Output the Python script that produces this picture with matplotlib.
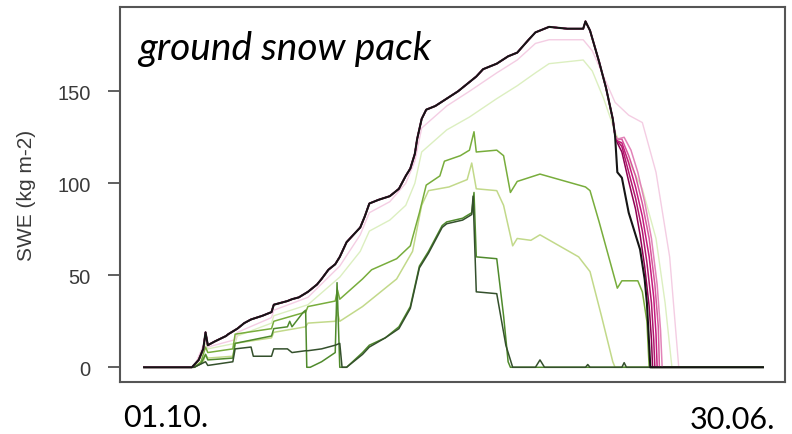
import matplotlib
matplotlib.use("Agg")
import matplotlib.pyplot as plt

# days since 01.10., SWE in kg m-2
# shared accumulation of the top (black / magenta) runs
acc_days = [0, 21, 24, 26, 27, 28, 31, 36, 37, 41, 44, 47, 52, 56, 57, 63, 65, 68, 72, 76, 78, 81, 84,
            86, 89, 92, 95, 97, 99, 103, 108, 112, 115, 117, 119, 120, 122, 124, 128, 133, 138, 143,
            146, 149, 155, 160, 164, 169, 172, 178, 186, 193, 194, 196, 200, 203, 206, 207]
acc_swe = [0, 0, 4, 10, 19, 12, 14, 17, 18, 21, 24, 26, 28, 30, 34, 36, 37, 38, 41, 45, 48, 53, 56,
           60, 68, 72, 76, 82, 89, 91, 93, 97, 104, 108, 116, 124, 135, 140, 142, 146, 150, 155,
           158, 162, 165, 169, 171, 178, 182, 185, 184, 184, 188, 183, 166, 152, 135, 126]

# melt tails
black_days = [208, 210, 213, 216, 218, 220, 221, 222, 222.5, 272]
black_swe = [106, 103, 84, 72, 64, 48, 35, 12, 0, 0]

pink_days = [
    [208, 210, 213, 216, 218, 220, 222, 223, 223.5],
    [208, 210, 213, 216, 219, 221, 223, 224, 224.5],
    [208, 210, 213, 216, 219, 222, 224, 225, 225.5],
    [208, 210, 213, 216, 219, 222, 224.5, 226, 226.5],
    [208, 211, 214, 217, 220, 223, 225.5, 227, 227.7],
]
pink_swe = [
    [122, 117, 101, 86, 72, 55, 33, 15, 0],
    [123, 120, 106, 92, 74, 57, 35, 15, 0],
    [123, 122, 111, 98, 82, 60, 38, 18, 0],
    [124, 124, 115, 104, 89, 70, 45, 22, 0],
    [124, 125, 118, 106, 90, 70, 45, 20, 0],
]
pink_colors = ["#8e0152", "#b0176d", "#c51b7d", "#d6559b", "#e283b8"]

# faint runs just below the top
fp_days = [0, 22, 27, 28, 40, 41, 56, 57, 72, 86, 95, 99, 108, 115, 119, 122, 133, 143, 155, 164,
           172, 178, 193, 197, 202, 207, 213, 219, 225, 231, 235, 272]
fp_swe = [0, 0, 15, 11, 15, 19, 27, 31, 38, 55, 72, 84, 90, 100, 112, 130, 142, 150, 160, 167,
          176, 178, 178, 172, 158, 144, 137, 133, 106, 60, 0, 0]
fg_days = [0, 22, 27, 28, 40, 41, 56, 57, 72, 86, 95, 99, 108, 115, 119, 122, 133, 143, 155, 164,
           172, 178, 193, 197, 202, 207, 213, 219, 225, 229, 232, 272]
fg_swe = [0, 0, 13, 10, 13, 17, 24, 28, 34, 49, 63, 74, 80, 88, 100, 117, 129, 136, 146, 153,
          160, 165, 167, 161, 146, 128, 112, 97, 70, 35, 0, 0]

# green runs
g1_days = [0, 22, 25, 27, 28, 39, 40, 56, 57, 71, 72, 84, 85, 86, 96, 100, 111, 117, 121, 124, 130,
           132, 139, 143, 145, 146, 155, 158, 161, 164, 174, 194, 196, 200, 208, 210, 217, 219, 221,
           222, 272]
g1_swe = [0, 0, 3, 11, 8, 10, 18, 21, 25, 30, 33, 36, 42, 37, 48, 53, 59, 66, 84, 99, 104,
          112, 115, 118, 128, 117, 118, 115, 95, 101, 105, 98, 96, 79, 43, 47, 47, 41, 25,
          0, 0]
g2_days = [0, 22, 26, 27, 28, 39, 40, 56, 57, 71, 72, 84, 85, 86, 96, 111, 118, 122, 125, 134, 142,
           144, 146, 155, 158, 162, 164, 170, 174, 191, 196, 201, 206, 207, 272]
g2_swe = [0, 0, 3, 7, 5, 6, 13, 16, 19, 22, 24, 25, 30, 25, 33, 48, 63, 88, 96, 98, 102,
          111, 97, 96, 88, 66, 70, 69, 72, 60, 52, 28, 3, 0, 0]
da_days = [0, 22, 25, 27, 28, 39, 40, 56, 57, 63, 64, 65, 70, 71, 71.5, 73, 78, 84, 84.8, 86, 89,
           96, 99, 106, 112, 117, 121, 125, 131, 133, 140, 144, 145, 146, 155, 158, 160, 161, 272]
da_swe = [0, 0, 2, 7, 4, 5, 13, 17, 21, 22, 25, 22, 30, 31, 0, 0, 3, 8, 46, 0, 0,
          8, 12, 16, 22, 33, 55, 63, 77, 79, 81, 84, 95, 60, 59, 28, 3, 0, 0]
db_days = [0, 22, 27, 28, 39, 40, 47, 48, 56, 57, 63, 65, 71, 72, 78, 84, 86, 87, 89, 96, 99, 106,
           112, 117, 121, 125, 131, 133, 140, 144, 144.6, 146, 155, 159, 162, 172, 174, 176, 194,
           195, 196, 210, 211, 212, 272]
db_swe = [0, 0, 3, 1, 3, 10, 11, 6, 6, 10, 10, 8, 9, 9, 10, 12, 13, 0, 0, 7, 11, 16,
          21, 32, 54, 62, 76, 78, 80, 83, 93, 41, 40, 12, 0, 0, 4, 0, 0,
          1.5, 0, 0, 2.5, 0, 0]

plt.rcParams["font.family"] = ["Liberation Sans", "DejaVu Sans"]
fig = plt.figure(figsize=(7.92, 4.35), dpi=100)
ax = fig.add_axes([120 / 792, 1 - 383 / 435, 665 / 792, 375 / 435])

ax.plot(fg_days, fg_swe, color="#dcefc0", lw=1.0)
ax.plot(fp_days, fp_swe, color="#f4cde3", lw=1.0)
ax.plot(g2_days, g2_swe, color="#c2d98a", lw=1.1)
ax.plot(g1_days, g1_swe, color="#78ad3c", lw=1.1)
ax.plot(da_days, da_swe, color="#4f8a2c", lw=1.1)
ax.plot(db_days, db_swe, color="#34502c", lw=1.1)
for d, s, c in zip(pink_days, pink_swe, pink_colors):
    ax.plot(acc_days + d, acc_swe + s, color=c, lw=1.1)
ax.plot(acc_days + black_days, acc_swe + black_swe, color="#151515", lw=1.5)

ax.set_xlim(-10.6, 281.7)
ax.set_ylim(-8, 195.8)
ax.set_xticks([])
ax.set_yticks([0, 50, 100, 150])
ax.tick_params(axis="y", length=9, width=1.2, pad=12, labelsize=14.5,
               colors="#444444", labelcolor="#3a3a3a")
for sp in ax.spines.values():
    sp.set_color("#555555")
    sp.set_linewidth(1.5)

fig.text(27 / 792, 1 - 195 / 435, "SWE (kg m-2)", rotation=90, ha="center", va="center",
         fontsize=15, color="#3a3a3a")
fig.text(138 / 792, 1 - 60 / 435, "ground snow pack", family=["Lato", "DejaVu Sans"],
         style="italic", fontsize=28, color="black")
fig.text(123 / 792, 1 - 427 / 435, "01.10.", family=["Lato", "DejaVu Sans"],
         fontsize=22, color="black")
fig.text(690 / 792, 1 - 429 / 435, "30.06.", family=["Lato", "DejaVu Sans"],
         fontsize=22, color="black")

fig.savefig("out.png", dpi=100)
